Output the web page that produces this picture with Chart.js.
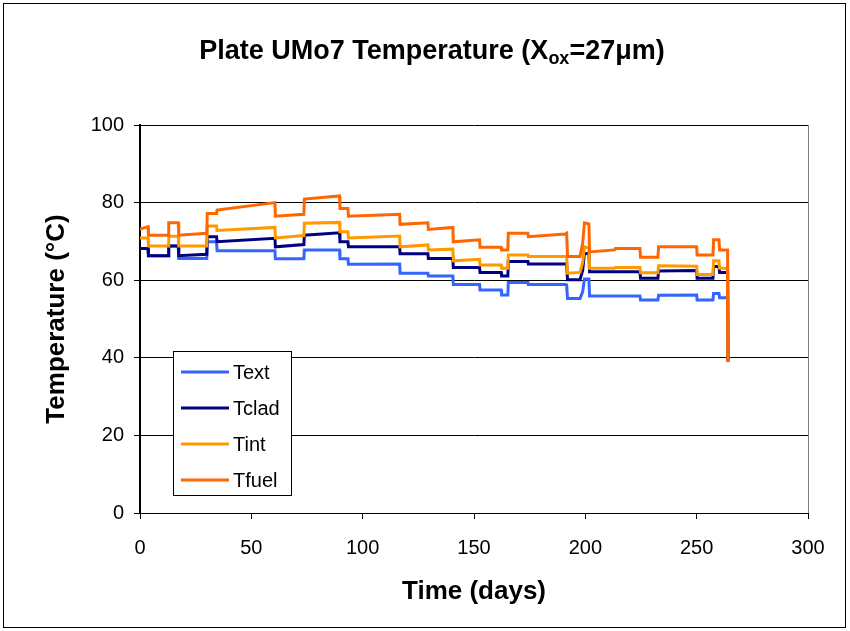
<!DOCTYPE html>
<html>
<head>
<meta charset="utf-8">
<script src="https://cdn.jsdelivr.net/npm/chart.js@4.4.1/dist/chart.umd.min.js"></script>
<style>
  html, body { margin: 0; padding: 0; background: #ffffff; overflow: hidden; }
  #wrap { position: relative; width: 850px; height: 631px; }
  #title {
    position: absolute; left: 14px; width: 836px; top: 35px;
    text-align: center; font: bold 27px "Liberation Sans", Arial, sans-serif;
    line-height: 30px; color: #000;
  }
  #title sub { font-size: 18px; vertical-align: -5px; line-height: 0; }
</style>
</head>
<body>
<div id="wrap">
  <canvas id="c" width="850" height="631"></canvas>
  <div id="title">Plate UMo7 Temperature (X<sub>ox</sub>=27μm)</div>
</div>
<script>
// ---- data (time in days, temperatures in °C) ----
const days  = [0, 3.6, 3.8, 12.7, 12.9, 17.2, 17.4, 30.0, 30.2, 34.4, 34.6, 60.6, 60.8, 73.6, 73.8, 89.6, 89.8, 93.4, 93.6, 116.6, 116.8, 129.3, 129.5, 140.5, 140.7, 152.5, 152.7, 162.2, 162.4, 165.2, 165.4, 174.2, 174.4, 190.9, 191.6, 192.0, 197.6, 198.8, 199.6, 201.6, 201.9, 213.1, 213.5, 224.5, 224.8, 232.6, 232.9, 250.0, 250.2, 257.3, 257.6, 260.0, 260.3, 263.9, 264.1];
const tFuel = [73.2, 73.8, 71.6, 71.6, 74.8, 74.8, 71.6, 72.1, 77.2, 77.2, 78.1, 80.0, 76.5, 77.0, 80.9, 81.7, 78.5, 78.5, 76.5, 77.0, 74.4, 74.8, 73.1, 73.6, 69.9, 70.4, 68.5, 68.5, 67.8, 67.8, 72.1, 72.1, 71.2, 71.9, 72.1, 66.1, 66.1, 69.5, 74.8, 74.5, 67.3, 67.8, 68.2, 68.2, 65.9, 65.9, 68.6, 68.6, 66.5, 66.5, 70.4, 70.4, 67.8, 67.8, 39.0];
const tInt  = [70.9, 70.9, 68.8, 68.8, 71.3, 71.3, 68.8, 68.8, 74.0, 74.0, 72.8, 73.6, 70.9, 71.5, 74.7, 74.9, 72.5, 72.5, 70.9, 71.4, 68.6, 69.1, 67.8, 68.0, 65.0, 65.4, 63.9, 63.9, 63.1, 63.1, 66.5, 66.5, 66.1, 66.1, 65.9, 61.8, 62.0, 64.5, 68.6, 68.2, 63.1, 63.1, 63.3, 63.3, 61.9, 61.9, 63.7, 63.6, 61.5, 61.5, 65.0, 65.0, 63.1, 63.1, 39.0];
const tClad = [68.2, 68.2, 66.3, 66.3, 68.8, 68.8, 66.3, 66.7, 71.2, 71.2, 69.9, 70.8, 68.6, 69.2, 71.6, 72.2, 69.9, 69.9, 68.6, 68.6, 66.8, 66.8, 65.6, 65.6, 63.3, 63.3, 62.0, 62.0, 61.1, 61.1, 64.8, 64.8, 64.2, 64.2, 64.3, 60.1, 60.1, 62.5, 66.9, 66.9, 62.2, 62.2, 62.2, 62.2, 60.5, 60.5, 62.4, 62.5, 60.5, 60.5, 63.5, 63.5, 62.0, 62.0, 39.0];
const tExt  = [68.2, 68.2, 66.3, 66.3, 68.8, 68.8, 65.6, 65.6, 69.9, 69.9, 67.6, 67.6, 65.5, 65.5, 67.8, 67.8, 65.5, 65.5, 64.1, 64.2, 61.8, 61.8, 61.1, 61.1, 58.9, 58.9, 57.5, 57.5, 56.2, 56.2, 59.4, 59.4, 58.9, 58.9, 58.8, 55.3, 55.3, 57.0, 60.3, 60.3, 55.9, 55.9, 55.9, 55.9, 54.9, 54.9, 56.1, 56.2, 54.9, 54.9, 56.6, 56.6, 55.5, 55.5, 39.0];
const seriesNames  = ['Text', 'Tclad', 'Tint', 'Tfuel'];
const seriesValues = [tExt, tClad, tInt, tFuel];
const seriesColors = ['#3366FF', '#000080', '#FF9900', '#FF6600'];

const FONT = '"Liberation Sans", Arial, sans-serif';

const datasets = seriesNames.map((name, k) => ({
  label: name,
  data: days.map((d, i) => ({ x: d, y: seriesValues[k][i] })),
  borderColor: seriesColors[k],
  backgroundColor: seriesColors[k],
  borderWidth: 3,
  pointRadius: 0,
  tension: 0,
  fill: false,
  order: 4 - k,
  borderJoinStyle: 'miter',
  borderCapStyle: 'butt'
}));

const framePlugin = {
  id: 'frame',
  beforeDraw(chart) {
    const ctx = chart.ctx;
    ctx.save();
    ctx.fillStyle = '#ffffff';
    ctx.fillRect(0, 0, chart.width, chart.height);
    ctx.strokeStyle = '#000000';
    ctx.lineWidth = 1;
    ctx.strokeRect(3.5, 3.5, 842, 624);
    ctx.restore();
  },
  beforeDatasetsDraw(chart) {
    const a = chart.chartArea, ctx = chart.ctx;
    ctx.save();
    ctx.strokeStyle = '#808080';
    ctx.lineWidth = 1;
    ctx.beginPath();
    ctx.moveTo(a.right + 0.5, a.top);
    ctx.lineTo(a.right + 0.5, a.bottom);
    ctx.stroke();
    ctx.restore();
  },
  afterDraw(chart) {
    const ctx = chart.ctx;
    const bx = 173, by = 351, bw = 118, bh = 144;
    ctx.save();
    ctx.fillStyle = '#ffffff';
    ctx.fillRect(bx, by, bw, bh);
    ctx.strokeStyle = '#000000';
    ctx.lineWidth = 1;
    ctx.strokeRect(bx + 0.5, by + 0.5, bw, bh);
    ctx.font = '20px ' + FONT;
    ctx.textBaseline = 'middle';
    ctx.fillStyle = '#000000';
    chart.data.datasets.forEach((ds, i) => {
      const yy = 372 + i * 36;
      ctx.strokeStyle = ds.borderColor;
      ctx.lineWidth = 3;
      ctx.beginPath();
      ctx.moveTo(181, yy);
      ctx.lineTo(229, yy);
      ctx.stroke();
      ctx.fillText(ds.label, 233, yy + 1);
    });
    ctx.restore();
  }
};

new Chart(document.getElementById('c'), {
  type: 'line',
  data: { datasets },
  options: {
    responsive: false,
    animation: false,
    devicePixelRatio: 1,
    layout: { padding: { left: 0, top: 125, right: 42, bottom: 0 } },
    plugins: { legend: { display: false }, title: { display: false }, tooltip: { enabled: false } },
    scales: {
      x: {
        type: 'linear', min: 0, max: 300,
        ticks: { stepSize: 50, color: '#000', font: { family: FONT, size: 20 }, padding: 17, maxRotation: 0 },
        grid: { drawOnChartArea: false, drawTicks: true, tickLength: 6, color: '#000' },
        border: { color: '#000', width: 1 },
        title: { display: true, text: 'Time (days)', color: '#000', font: { family: FONT, size: 26, weight: 'bold' }, padding: { top: 0, bottom: 24 } },
        afterFit(s) { s.height = 118; }
      },
      y: {
        min: 0, max: 100,
        ticks: { stepSize: 20, color: '#000', font: { family: FONT, size: 20 }, padding: 10 },
        grid: { color: '#000', lineWidth: 1, drawTicks: true, tickLength: 6 },
        border: { color: '#000', width: 2 },
        title: { display: true, text: 'Temperature (°C)', color: '#000', font: { family: FONT, size: 26, weight: 'bold' }, padding: { top: 41, bottom: 0 } },
        afterFit(s) { s.width = 140; }
      }
    }
  },
  plugins: [framePlugin]
});
</script>
</body>
</html>
